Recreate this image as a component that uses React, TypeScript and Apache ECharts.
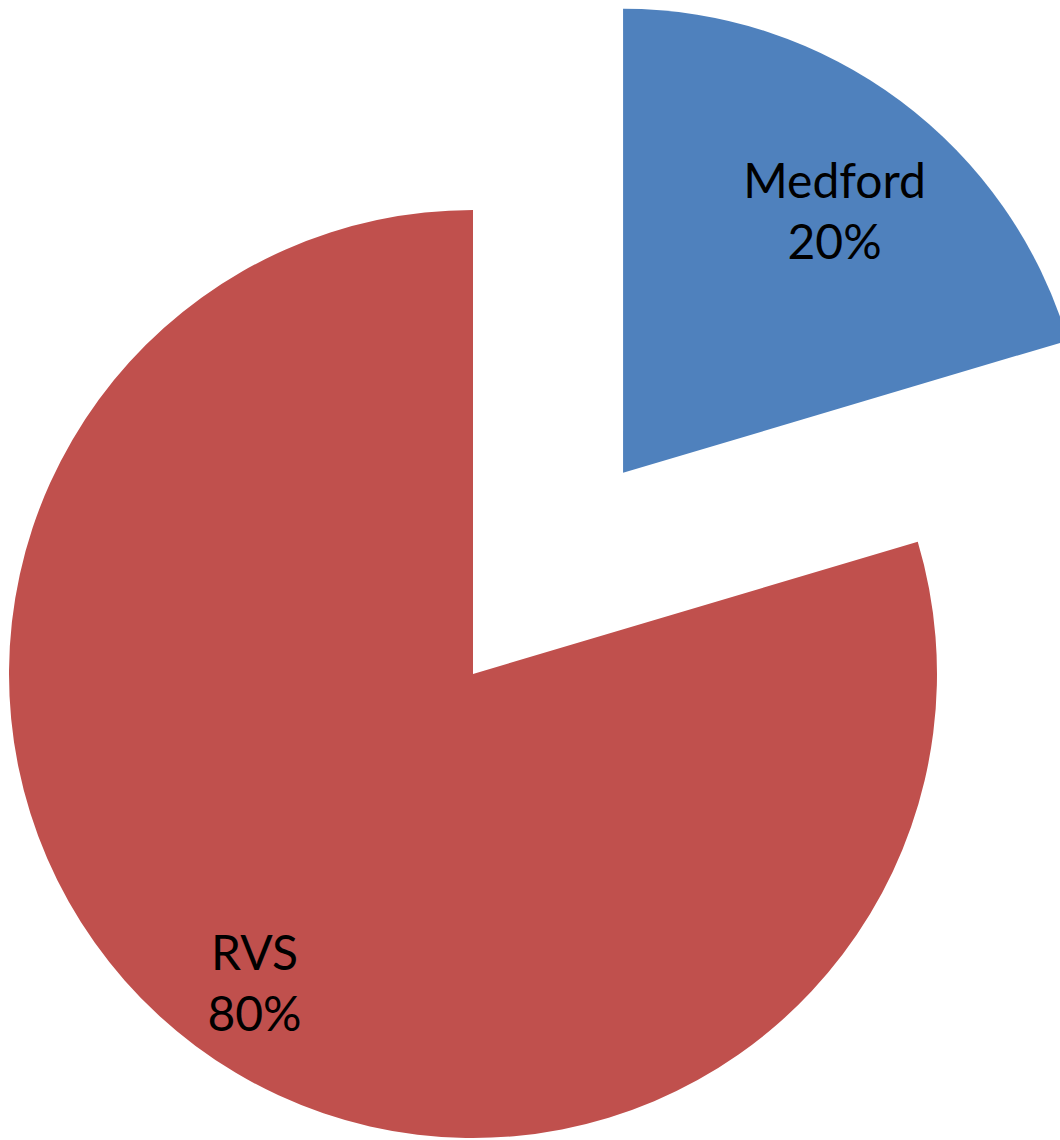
import React, { useEffect, useRef } from "react";
import * as echarts from "echarts";

const categories = ["Medford", "RVS"];
const values = [20.4, 79.6];
const colors = ["#4F81BD", "#C0504D"];
const explodedIndex = 0;

export default function App() {
  const ref = useRef<HTMLDivElement>(null);
  useEffect(() => {
    if (!ref.current) return;
    const chart = echarts.init(ref.current, null, { renderer: "svg" });
    const data = categories.map((name, i) => ({
      name,
      value: values[i],
      selected: i === explodedIndex,
      itemStyle: { color: colors[i] },
      select: { itemStyle: { color: colors[i] } },
    }));
    const shifts = [
      { dx: 71, dy: -74 },
      { dx: -78, dy: 120 },
    ];
    chart.setOption({
      animation: false,
      backgroundColor: "#ffffff",
      series: [
        {
          type: "pie",
          center: [473, 674],
          radius: [0, 464],
          startAngle: 90,
          clockwise: true,
          selectedMode: "single",
          selectedOffset: 251,
          avoidLabelOverlap: false,
          emphasis: { disabled: true },
          label: {
            show: true,
            position: "inside",
            formatter: (p: any) => `${p.name}\n${Math.round(p.percent)}%`,
            fontFamily: "Lato, 'Liberation Sans', sans-serif",
            fontSize: 48,
            lineHeight: 61,
            color: "#000000",
            align: "center",
          },
          labelLine: { show: false },
          labelLayout: (params: any) => shifts[params.dataIndex] || {},
          data,
        },
      ],
    });
    return () => chart.dispose();
  }, []);
  return (
    <div
      ref={ref}
      style={{ position: "fixed", left: 0, top: 0, width: 1060, height: 1140 }}
    />
  );
}
